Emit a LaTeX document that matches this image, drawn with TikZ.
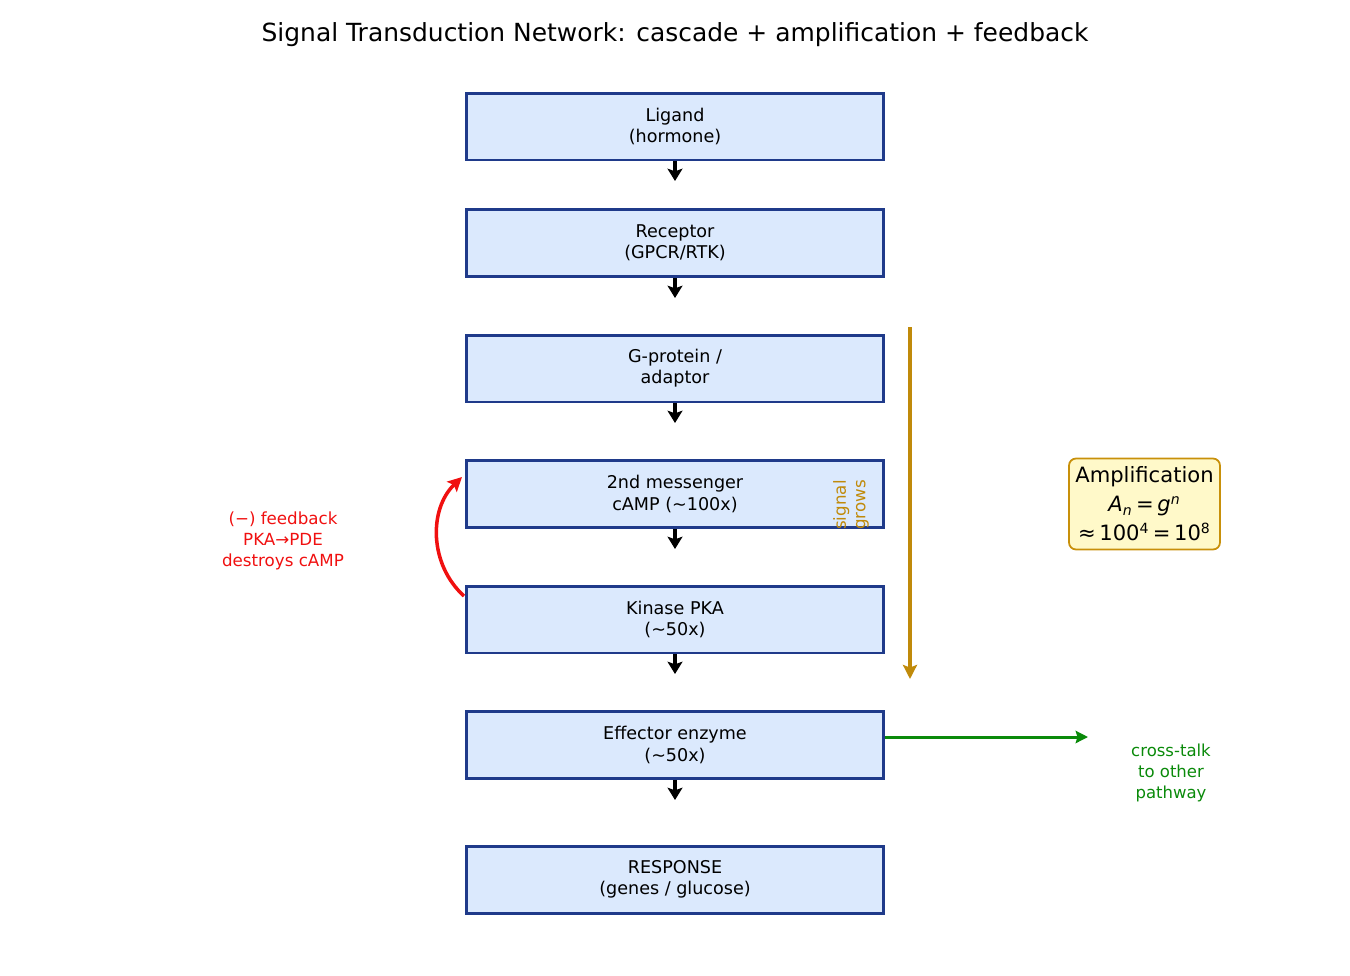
\documentclass[tikz,border=0pt]{standalone}
\usepackage{fontspec}
\setmainfont{DejaVu Sans}
\usetikzlibrary{arrows.meta}
\definecolor{boxfill}{HTML}{DBE9FD}
\definecolor{boxline}{HTML}{1F3A8A}
\definecolor{gold}{HTML}{C08A0A}
\definecolor{ampfill}{HTML}{FFF9C9}
\definecolor{ampline}{HTML}{C8900A}
\definecolor{fbred}{HTML}{F01010}
\definecolor{xgreen}{HTML}{0A8A0A}
\tikzset{
  stage/.style={draw=boxline, fill=boxfill, line width=1.7pt, minimum width=8.36cm, minimum height=1.34cm, align=center, inner sep=0pt, font=\fontsize{10}{12}\selectfont},
  flow/.style={-{Stealth[length=7pt,width=8.5pt,inset=1.5pt]}, line width=1.9pt, black},
}
\begin{document}
\begin{tikzpicture}[x=0.02cm, y=-0.02cm]
\useasboundingbox (0,0) rectangle (1350,975);
\node[font=\fontsize{14.2}{17}\selectfont] (title) at (675,35) {Signal Transduction Network: cascade + amplification + feedback};

\node[stage] (b1) at (675,126.5) {Ligand\\(hormone)};
\node[stage] (b2) at (675,243) {Receptor\\(GPCR/RTK)};
\node[stage] (b3) at (675,368.5) {G-protein /\\adaptor};
\node[stage] (b4) at (675,494) {2nd messenger\\cAMP (\textasciitilde100x)};
\node[stage] (b5) at (675,619.5) {Kinase PKA\\(\textasciitilde50x)};
\node[stage] (b6) at (675,745) {Effector enzyme\\(\textasciitilde50x)};
\node[stage] (b7) at (675,879.5) {RESPONSE\\(genes / glucose)};

\foreach \a/\y in {b1/181, b2/298, b3/423, b4/549, b5/674, b6/800}{
  \coordinate (\a e) at (675,\y);
  \draw[flow] (\a.south) -- (\a e);
}

% signal grows
\coordinate (gtop) at (910,327);
\coordinate (gbot) at (910,679);
\draw[-{Stealth[length=8pt,width=8pt,inset=1.5pt]}, gold, line width=2pt] (gtop) -- (gbot);
\node[rotate=90, text=gold, align=center, font=\fontsize{9.5}{11}\selectfont, inner sep=0pt] (sg) at (851,505) {signal\\grows};

% amplification
\node[draw=ampline, fill=ampfill, line width=1pt, rounded corners=4pt, align=center, minimum width=3.02cm, minimum height=1.82cm, inner sep=2pt, font=\fontsize{12}{16.5}\selectfont] (amp) at (1144.5,504) {Amplification\\\textit{A}\textsubscript{\textit{n}}\,=\,\textit{g}\textsuperscript{\textit{n}}\\≈\,100\textsuperscript{4}\,=\,10\textsuperscript{8}};

% feedback
\coordinate (fbs) at (464,596);
\coordinate (fbe) at (462,477);
\draw[-{Stealth[length=8pt,width=8pt,inset=1.5pt]}, fbred, line width=2pt] (fbs) to[bend left=47] (fbe);
\node[text=fbred, align=center, font=\fontsize{9.5}{12}\selectfont] (fb) at (283,541) {(−) feedback\\PKA→PDE\\destroys cAMP};

% cross-talk
\coordinate (xt) at (1088,737);
\draw[-{Stealth[length=7pt,width=7pt,inset=1pt]}, xgreen, line width=1.7pt] (b6.east |- xt) -- (xt);
\node[text=xgreen, align=center, font=\fontsize{9.4}{12}\selectfont] (ct) at (1171,773) {cross-talk\\to other\\pathway};
\end{tikzpicture}
\end{document}
